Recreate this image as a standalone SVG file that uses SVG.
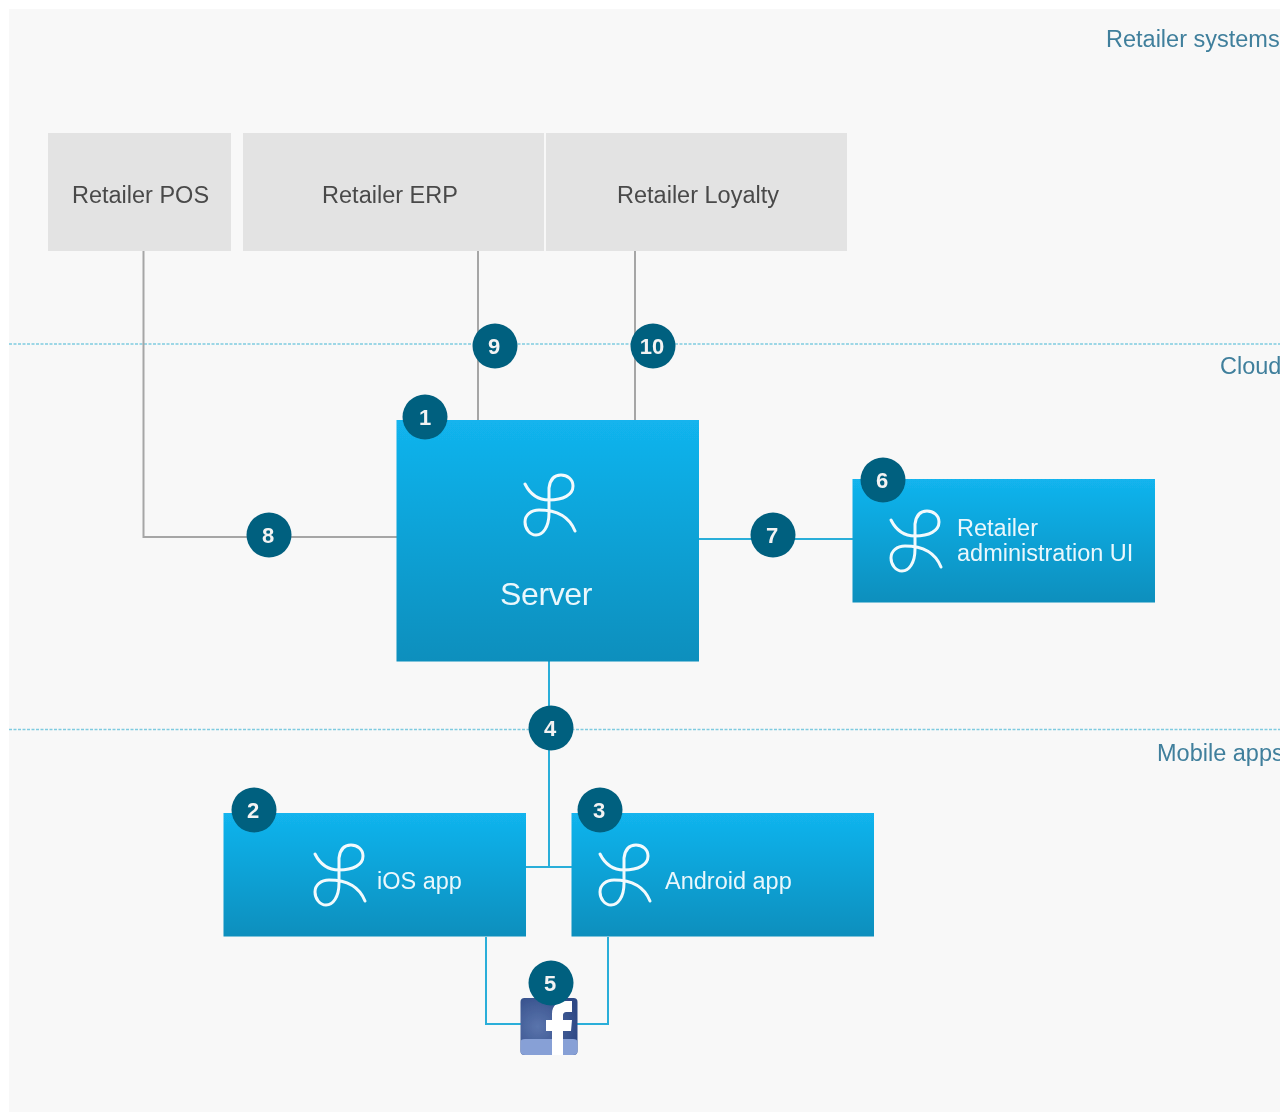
<svg xmlns="http://www.w3.org/2000/svg" width="1280" height="1113" viewBox="0 0 1280 1113">
<style>
text{font-family:"Liberation Sans",Arial,sans-serif}
.zone{font-size:23.5px;fill:#3f7f9c}
.sys{fill:#e3e3e3}
.syst{font-size:23.500px;fill:#4a4a4a;text-anchor:middle}
.box{fill:url(#blue)}
.boxt{font-size:23.500px;fill:#eaf7fc}
.gray{fill:none;stroke:#a6a6a6;stroke-width:2}
.bl{fill:none;stroke:#2baed9;stroke-width:2}
.dash{stroke:#7fcbe0;stroke-width:1.3;stroke-dasharray:3 1.5}
.ico{fill:none;stroke:#f2fafd;stroke-width:3;stroke-linecap:round}
.badge circle{fill:#04607f}
.badge text{font-size:22px;font-weight:bold;fill:#f3f3f3;text-anchor:middle}
</style>
<defs>
<linearGradient id="blue" x1="0" y1="0" x2="0" y2="1"><stop offset="0" stop-color="#12b4ee"/><stop offset="1" stop-color="#078fbd"/></linearGradient>
<radialGradient id="fbg" cx=".3" cy=".5" r=".7"><stop offset="0" stop-color="#5a74ac"/><stop offset="1" stop-color="#2f4a86"/></radialGradient>
<path id="knot" d="M0 9C5 19 13 25 24 25C38 25 48 20 48 11C48 4 42 0 36 0C29 0 25 5 24 13L24 38C24 52 18 60 11 60C5 60 0 54 0 47C0 40 6 35 14 35C32 35 44 41 50 56"/>
<filter id="soft" x="0" y="0" width="100%" height="100%"><feGaussianBlur stdDeviation=".45"/></filter>
</defs>
<rect width="1280" height="1113" fill="#fff"/>
<g filter="url(#soft)">
<rect x="9" y="9" width="1271" height="1103" fill="#f8f8f8"/>
<g id="zones">
<line class="dash" x1="9" y1="344" x2="1280" y2="344"/>
<line class="dash" x1="9" y1="729.500" x2="1280" y2="729.500"/>
<text class="zone" x="1106" y="47">Retailer systems</text>
<text class="zone" x="1220" y="374">Cloud</text>
<text class="zone" x="1157" y="761">Mobile apps</text>
</g>
<g id="connectors">
<path class="gray" d="M143.500 250V537H397"/>
<path class="gray" d="M478 250V420"/>
<path class="gray" d="M635 250V420"/>
<path class="bl" d="M699 539H853"/>
<path class="bl" d="M549 661V867"/>
<path class="bl" d="M526 867H572"/>
<path class="bl" d="M486 937V1024H608V937"/>
</g>
<g id="retailer-pos"><rect class="sys" x="48" y="133" width="183" height="118"/><text class="syst" x="140.500" y="203">Retailer POS</text></g>
<g id="retailer-erp"><rect class="sys" x="243" y="133" width="301" height="118"/><text class="syst" x="390" y="203">Retailer ERP</text></g>
<g id="retailer-loyalty"><rect class="sys" x="546" y="133" width="301" height="118"/><text class="syst" x="698" y="203">Retailer Loyalty</text></g>
<g id="server"><rect class="box" x="396.500" y="420" width="302.500" height="241.500"/><use href="#knot" class="ico" x="525" y="475"/><text x="546" y="605" font-size="32" fill="#eaf7fc" text-anchor="middle" letter-spacing="-.4">Server</text></g>
<g id="admin-ui"><rect class="box" x="852.500" y="479" width="302.500" height="123.500"/><use href="#knot" class="ico" x="891" y="511"/><text class="boxt" x="957" y="536">Retailer</text><text class="boxt" x="957" y="561">administration UI</text></g>
<g id="ios-app"><rect class="box" x="223.500" y="813" width="302.500" height="123.500"/><use href="#knot" class="ico" x="315" y="845"/><text class="boxt" x="377" y="889">iOS app</text></g>
<g id="android-app"><rect class="box" x="571.500" y="813" width="302.500" height="123.500"/><use href="#knot" class="ico" x="600" y="845"/><text class="boxt" x="665" y="889">Android app</text></g>
<g id="facebook">
<rect x="520.500" y="998" width="57" height="57" rx="4" fill="url(#fbg)"/>
<path d="M520.500 1042Q520.500 1039 525 1039H573Q577.500 1039 577.500 1042V1051Q577.500 1055 573 1055H525Q520.500 1055 520.500 1051Z" fill="#87a0d6"/>
<path d="M552 1055V1031H546V1020H552V1014C552 1005 558 1001 566 1001H572V1012H567C564 1012 563 1013 563 1016V1020H572L571 1031H563V1055Z" fill="#fff"/>
</g>
<g class="badge" id="badge-1"><circle cx="425" cy="417" r="22.500"/><text x="425" y="425">1</text></g>
<g class="badge" id="badge-2"><circle cx="254" cy="810" r="22.500"/><text x="253" y="818">2</text></g>
<g class="badge" id="badge-3"><circle cx="600" cy="810" r="22.500"/><text x="599" y="818">3</text></g>
<g class="badge" id="badge-4"><circle cx="551" cy="728" r="22.500"/><text x="550" y="736">4</text></g>
<g class="badge" id="badge-5"><circle cx="551" cy="983" r="22.500"/><text x="550" y="991">5</text></g>
<g class="badge" id="badge-6"><circle cx="883" cy="480" r="22.500"/><text x="882" y="488">6</text></g>
<g class="badge" id="badge-7"><circle cx="773" cy="535" r="22.500"/><text x="772" y="543">7</text></g>
<g class="badge" id="badge-8"><circle cx="269" cy="535" r="22.500"/><text x="268" y="543">8</text></g>
<g class="badge" id="badge-9"><circle cx="495" cy="346" r="22.500"/><text x="494" y="354">9</text></g>
<g class="badge" id="badge-10"><circle cx="653" cy="346" r="22.500"/><text x="652" y="354">10</text></g>
</g>
</svg>
